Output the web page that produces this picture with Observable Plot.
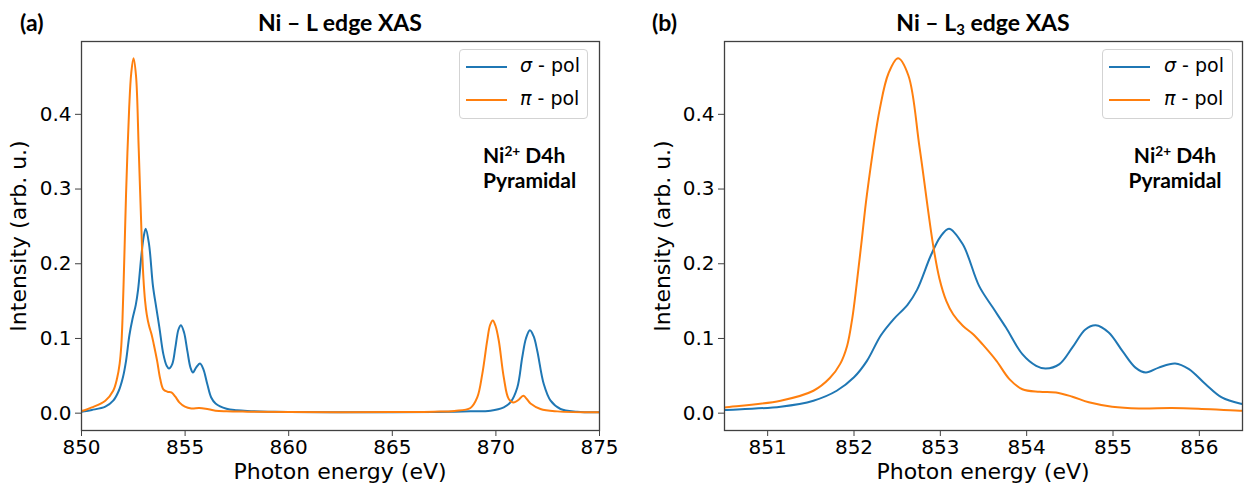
<!DOCTYPE html>
<html><head><meta charset="utf-8">
<script src="https://cdn.jsdelivr.net/npm/d3@7"></script>
<script src="https://cdn.jsdelivr.net/npm/@observablehq/plot@0.6"></script>
<style>
body{margin:0;background:#fff;}
#fig{position:relative;width:1245px;height:490px;overflow:hidden;background:#fff;}
.abs{position:absolute;white-space:nowrap;color:#000;}
.bold{font-family:Lato,"Open Sans",sans-serif;font-weight:700;}
.title{font-size:23px;line-height:27.6px;transform:translateX(-50%);}
.ann{font-size:21px;line-height:25px;}
.axlab{font-family:"DejaVu Sans",sans-serif;font-size:22px;line-height:22px;}
.leg{position:absolute;border:1px solid #d3d3d3;border-radius:4px;background:rgba(255,255,255,0.8);box-sizing:border-box;}
.sw{position:absolute;height:2px;width:41px;}
.lt{position:absolute;font-family:"DejaVu Sans",sans-serif;font-size:19px;line-height:19px;white-space:nowrap;}
.lt i{font-style:oblique;}
sub{font-size:0.65em;vertical-align:-0.3em;line-height:0;}
sup{font-size:0.65em;vertical-align:0.55em;line-height:0;}
</style>
</head><body>
<div id="fig"></div>
<script>
// ---- data ----
const sigmaE = [850.0, 850.25, 850.5, 851.15, 851.53, 851.8, 852.0, 852.15, 852.31, 852.46, 852.62, 852.73, 852.89, 853.0, 853.1, 853.26, 853.45, 853.61, 853.76, 853.95, 854.11, 854.22, 854.38, 854.53, 854.68, 854.8, 854.95, 855.11, 855.26, 855.38, 855.53, 855.72, 855.88, 856.07, 856.26, 856.47, 857.0, 857.5, 858.0, 859.0, 860.0, 862.0, 865.0, 867.0, 868.0, 868.77, 869.74, 870.38, 870.7, 871.03, 871.27, 871.45, 871.64, 871.82, 872.0, 872.31, 872.64, 873.12, 873.92, 875.0];
const sigmaI = [0.002, 0.003, 0.0043, 0.0087, 0.0167, 0.030, 0.048, 0.070, 0.104, 0.126, 0.145, 0.165, 0.211, 0.236, 0.247, 0.226, 0.170, 0.141, 0.1146, 0.079, 0.0634, 0.0598, 0.0657, 0.088, 0.112, 0.1177, 0.108, 0.083, 0.061, 0.0545, 0.061, 0.0665, 0.059, 0.039, 0.021, 0.013, 0.006, 0.004, 0.003, 0.002, 0.0015, 0.0012, 0.0012, 0.0015, 0.002, 0.0025, 0.0033, 0.0078, 0.0144, 0.034, 0.0745, 0.100, 0.111, 0.103, 0.083, 0.039, 0.0167, 0.0056, 0.002, 0.0013];
const piE = [850.0, 850.25, 850.5, 851.15, 851.53, 851.72, 851.84, 851.92, 851.98, 852.03, 852.09, 852.15, 852.3, 852.4, 852.51, 852.63, 852.76, 852.915, 852.99, 853.07, 853.15, 853.26, 853.38, 853.49, 853.65, 853.8, 853.95, 854.15, 854.34, 854.53, 854.72, 854.99, 855.3, 855.68, 855.99, 856.47, 857.0, 858.0, 860.0, 865.0, 867.0, 868.0, 868.77, 869.1, 869.34, 869.58, 869.72, 869.85, 869.98, 870.14, 870.38, 870.62, 870.86, 871.1, 871.32, 871.67, 872.15, 872.96, 875.0];
const piI = [0.003, 0.005, 0.0077, 0.0167, 0.030, 0.047, 0.066, 0.090, 0.127, 0.172, 0.232, 0.293, 0.408, 0.455, 0.475, 0.452, 0.355, 0.226, 0.180, 0.150, 0.132, 0.117, 0.1057, 0.092, 0.070, 0.0456, 0.032, 0.0287, 0.0278, 0.022, 0.0145, 0.0087, 0.0064, 0.0069, 0.006, 0.0033, 0.0025, 0.002, 0.0015, 0.0015, 0.002, 0.003, 0.0069, 0.021, 0.052, 0.097, 0.118, 0.124, 0.117, 0.097, 0.048, 0.019, 0.0144, 0.018, 0.0234, 0.013, 0.0056, 0.0024, 0.0011];
const seriesNames = ["σ", "π"];
const seriesColors = ["#1f77b4", "#ff7f0e"];
const xTicksA = [850, 855, 860, 865, 870, 875];
const xTicksB = [851, 852, 853, 854, 855, 856];
const yTicks = [0.0, 0.1, 0.2, 0.3, 0.4];
const panelTitles = ["Ni – L edge XAS", "Ni – L<sub>3</sub> edge XAS"];
const panelTags = ["(a)", "(b)"];

const sigma = sigmaE.map((e, i) => ({e, v: sigmaI[i]}));
const pi = piE.map((e, i) => ({e, v: piI[i]}));

function panel(opts) {
  return Plot.plot({
    width: opts.width, height: 490,
    marginLeft: opts.ml, marginRight: opts.mr, marginTop: 41, marginBottom: 60,
    style: {fontFamily: "DejaVu Sans", fontSize: "20px", color: "#000", background: "transparent", overflow: "visible"},
    x: {domain: opts.xDomain},
    y: {domain: [-0.0232, 0.4975]},
    marks: [
      Plot.line(sigma, {x: "e", y: "v", stroke: seriesColors[0], strokeWidth: 2, curve: "catmull-rom", clip: true}),
      Plot.line(pi, {x: "e", y: "v", stroke: seriesColors[1], strokeWidth: 2, curve: "catmull-rom", clip: true}),
      Plot.frame({stroke: "#404040", strokeWidth: 1.3}),
      Plot.axisX({ticks: opts.xTicks, tickFormat: d3.format("d"), tickSize: 6, tickPadding: 3, label: null, stroke: "#404040", fontSize: 20}),
      Plot.axisY({ticks: yTicks, tickFormat: d3.format(".1f"), tickSize: 6, tickPadding: 4, label: null, stroke: "#404040", fontSize: 20})
    ]
  });
}

const fig = document.getElementById("fig");
function place(el, left) { el.style.position = "absolute"; el.style.left = left + "px"; el.style.top = "0px"; fig.appendChild(el); }
place(panel({width: 620, ml: 81, mr: 21, xDomain: [850, 875], xTicks: xTicksA}), 0);
place(panel({width: 625, ml: 104, mr: 3, xDomain: [850.5, 856.5], xTicks: xTicksB}), 620);

function addDiv(cls, html, css) {
  const d = document.createElement("div");
  d.className = cls; d.innerHTML = html;
  Object.assign(d.style, css);
  fig.appendChild(d);
  return d;
}
// frames: a 81-599, b 724-1242
const frames = [[81, 599], [724, 1242]];
frames.forEach(([l, r], k) => {
  const c = (l + r) / 2;
  addDiv("abs bold title", panelTitles[k], {left: c + "px", top: "9px"});
  addDiv("abs bold", panelTags[k], {left: (k ? 652 : 20) + "px", top: "9px", fontSize: "23px", lineHeight: "27.6px"});
  addDiv("abs axlab", "Photon energy (eV)", {left: c + "px", top: "461px", transform: "translateX(-50%)"});
  addDiv("abs axlab", "Intensity (arb. u.)", {left: (k ? 663 : 19) + "px", top: "235.5px", transform: "translate(-50%,-50%) rotate(-90deg)"});
  // legend
  const lw = k ? 131 : 129;
  const lx = r - (k ? 9 : 11) - lw;
  const leg = addDiv("leg", "", {left: lx + "px", top: "49px", width: lw + "px", height: "70px"});
  seriesNames.forEach((n, i) => {
    const sw = document.createElement("div");
    sw.className = "sw"; sw.style.background = seriesColors[i];
    sw.style.left = "6px"; sw.style.top = (16 + 33 * i) + "px";
    leg.appendChild(sw);
    const t = document.createElement("div");
    t.className = "lt"; t.innerHTML = "<i>" + n + "</i> - pol";
    t.style.left = (k ? 61 : 60) + "px"; t.style.top = (6 + 33 * i) + "px";
    leg.appendChild(t);
  });
});
// annotations
addDiv("abs bold ann", "Ni<sup>2+</sup> D4h<br>Pyramidal", {left: "483px", top: "142px"});
addDiv("abs bold ann", "Ni<sup>2+</sup> D4h<br>Pyramidal", {left: "1175px", top: "142px", transform: "translateX(-50%)", textAlign: "center"});
</script>
</body></html>
